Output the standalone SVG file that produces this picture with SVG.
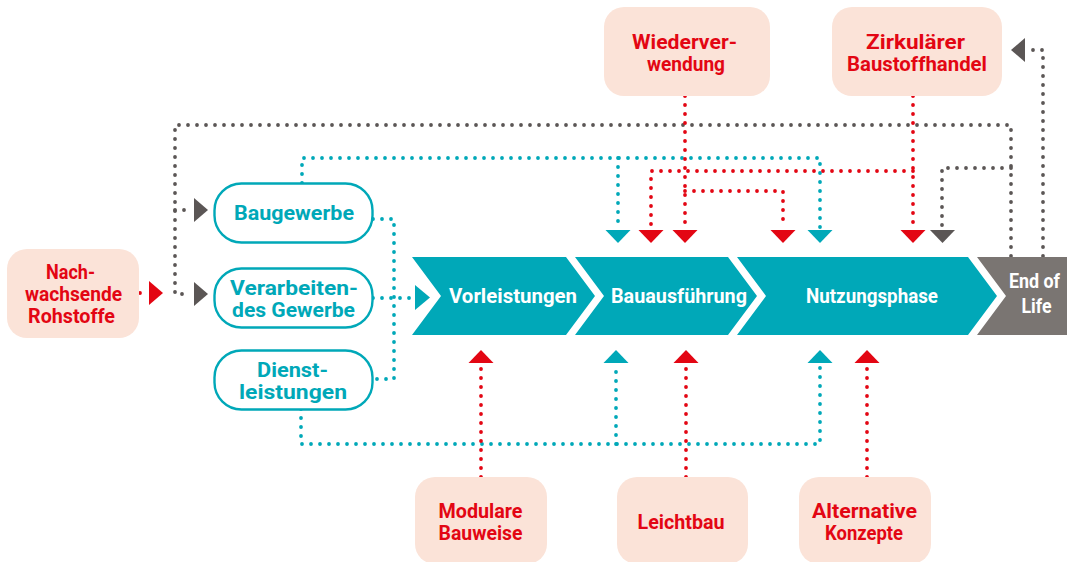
<svg xmlns="http://www.w3.org/2000/svg" width="1067" height="562" viewBox="0 0 1067 562">
<style>
.box{fill:#fbe3d8}
.rt{font-family:Roboto,"Liberation Sans",sans-serif;font-weight:700;font-size:20px;fill:#e30613;text-anchor:middle}
.tn{fill:#fff;stroke:#00a8b8;stroke-width:2.4}
.tt{font-family:Roboto,"Liberation Sans",sans-serif;font-weight:700;font-size:20.5px;fill:#00a8b8;text-anchor:middle}
.ct{font-family:Roboto,"Liberation Sans",sans-serif;font-weight:700;font-size:21px;fill:#fff;text-anchor:middle}
.ce{font-family:Roboto,"Liberation Sans",sans-serif;font-weight:700;font-size:20px;fill:#fff;text-anchor:middle}
.chev{fill:#00a8b8}
.eol{fill:#7a7572}
.d{fill:none;stroke-width:3.8;stroke-linecap:round;stroke-dasharray:0 9}
.dg{stroke:#5b5655}
.dt{stroke:#00a8b8}
.dr{stroke:#e30613}
.ag{fill:#5b5655}
.at{fill:#00a8b8}
.ar{fill:#e30613}
</style>

<g id="connectors">
  <!-- gray -->
  <path class="d dg" d="M1011,256 V125 H175 V294 H190"/>
  <path class="d dg" d="M175,210 H190"/>
  <path class="d dg" d="M1011,168 H942 V228"/>
  <path class="d dg" d="M1043,256 V50 H1028"/>
  <polygon class="ag" points="194,198 208,210 194,222"/>
  <polygon class="ag" points="194,282 208,294 194,306"/>
  <polygon class="ag" points="930,230 955,230 942.5,243"/>
  <polygon class="ag" points="1025,38 1025,62 1011,50"/>
  <!-- teal -->
  <path class="d dt" d="M302,183 V158 H820 V228"/>
  <path class="d dt" d="M618,158 V228"/>
  <path class="d dt" d="M373,219 H394 V379 H373"/>
  <path class="d dt" d="M373,298 H411"/>
  <path class="d dt" d="M301,409 V444 H820 V366"/>
  <path class="d dt" d="M616,444 V366"/>
  <polygon class="at" points="605.5,230 630.5,230 618,243"/>
  <polygon class="at" points="807.5,230 832.5,230 820,243"/>
  <polygon class="at" points="603.5,363 628.5,363 616,350"/>
  <polygon class="at" points="807.5,363 832.5,363 820,350"/>
  <!-- red -->
  <path class="d dr" d="M140,293 H148"/>
  <polygon class="ar" points="149,281 163,293 149,305"/>
  <path class="d dr" d="M685,96 V228"/>
  <path class="d dr" d="M685,191 H783 V228"/>
  <path class="d dr" d="M913,96 V228"/>
  <path class="d dr" d="M913,171 H651 V228"/>
  <polygon class="ar" points="672.5,230 697.5,230 685,243"/>
  <polygon class="ar" points="770.5,230 795.5,230 783,243"/>
  <polygon class="ar" points="900.5,230 925.5,230 913,243"/>
  <polygon class="ar" points="638.5,230 663.5,230 651,243"/>
  <path class="d dr" d="M481,477 V366"/>
  <path class="d dr" d="M686,477 V366"/>
  <path class="d dr" d="M867,477 V366"/>
  <polygon class="ar" points="468.5,363 493.5,363 481,350"/>
  <polygon class="ar" points="673.5,363 698.5,363 686,350"/>
  <polygon class="ar" points="854.5,363 879.5,363 867,350"/>
</g>

<g id="chevron-vorleistungen">
  <polygon class="chev" points="412,257 566,257 595,296 566,335 412,335 441,296"/>
  <polygon class="at" points="415,285 430,297.5 415,310"/>
  <text class="ct" x="513" y="303" textLength="128" lengthAdjust="spacingAndGlyphs">Vorleistungen</text>
</g>
<g id="chevron-bauausfuehrung">
  <polygon class="chev" points="575,257 728,257 757,296 728,335 575,335 604,296"/>
  <text class="ct" x="679" y="303" textLength="136" lengthAdjust="spacingAndGlyphs">Bauausführung</text>
</g>
<g id="chevron-nutzungsphase">
  <polygon class="chev" points="737,257 968,257 997,296 968,335 737,335 766,296"/>
  <text class="ct" x="872" y="303" textLength="132" lengthAdjust="spacingAndGlyphs">Nutzungsphase</text>
</g>
<g id="chevron-endoflife">
  <polygon class="eol" points="977,257 1067,257 1067,335 977,335 1006,296"/>
  <text class="ce" x="1034.5" y="288" textLength="51" lengthAdjust="spacingAndGlyphs">End of</text>
  <text class="ce" x="1036.5" y="313" textLength="30" lengthAdjust="spacingAndGlyphs">Life</text>
</g>

<g id="node-rohstoffe">
  <rect class="box" x="7" y="249" width="132" height="89" rx="20"/>
  <text class="rt" x="70.5" y="279" textLength="49" lengthAdjust="spacingAndGlyphs">Nach-</text>
  <text class="rt" x="73.5" y="301" textLength="97" lengthAdjust="spacingAndGlyphs">wachsende</text>
  <text class="rt" x="71.5" y="323" textLength="87" lengthAdjust="spacingAndGlyphs">Rohstoffe</text>
</g>

<g id="node-baugewerbe">
  <rect class="tn" x="214.5" y="183.5" width="158" height="59" rx="27"/>
  <text class="tt" x="294" y="220" textLength="120" lengthAdjust="spacingAndGlyphs">Baugewerbe</text>
</g>
<g id="node-verarbeitendes">
  <rect class="tn" x="214.5" y="268.5" width="158" height="59" rx="27"/>
  <text class="tt" x="294" y="295" textLength="128" lengthAdjust="spacingAndGlyphs">Verarbeiten-</text>
  <text class="tt" x="293.5" y="317" textLength="123" lengthAdjust="spacingAndGlyphs">des Gewerbe</text>
</g>
<g id="node-dienstleistungen">
  <rect class="tn" x="214.5" y="350.5" width="158" height="59" rx="27"/>
  <text class="tt" x="292.5" y="377" textLength="71" lengthAdjust="spacingAndGlyphs">Dienst-</text>
  <text class="tt" x="293" y="399" textLength="108" lengthAdjust="spacingAndGlyphs">leistungen</text>
</g>

<g id="node-wiederverwendung">
  <rect class="box" x="604" y="7" width="166" height="89" rx="20"/>
  <text class="rt" x="684.5" y="49" textLength="105" lengthAdjust="spacingAndGlyphs">Wiederver-</text>
  <text class="rt" x="686" y="71" textLength="78" lengthAdjust="spacingAndGlyphs">wendung</text>
</g>
<g id="node-baustoffhandel">
  <rect class="box" x="832" y="7" width="170" height="89" rx="20"/>
  <text class="rt" x="915.5" y="49" textLength="99" lengthAdjust="spacingAndGlyphs">Zirkulärer</text>
  <text class="rt" x="917" y="71" textLength="140" lengthAdjust="spacingAndGlyphs">Baustoffhandel</text>
</g>

<g id="node-modulare">
  <rect class="box" x="415" y="477" width="132" height="87" rx="20"/>
  <text class="rt" x="480.5" y="518" textLength="84" lengthAdjust="spacingAndGlyphs">Modulare</text>
  <text class="rt" x="480.5" y="540" textLength="84" lengthAdjust="spacingAndGlyphs">Bauweise</text>
</g>
<g id="node-leichtbau">
  <rect class="box" x="617" y="477" width="131" height="87" rx="20"/>
  <text class="rt" x="681" y="529" textLength="87" lengthAdjust="spacingAndGlyphs">Leichtbau</text>
</g>
<g id="node-alternative">
  <rect class="box" x="799" y="477" width="132" height="87" rx="20"/>
  <text class="rt" x="864.5" y="518" textLength="105" lengthAdjust="spacingAndGlyphs">Alternative</text>
  <text class="rt" x="864" y="540" textLength="78" lengthAdjust="spacingAndGlyphs">Konzepte</text>
</g>
</svg>
